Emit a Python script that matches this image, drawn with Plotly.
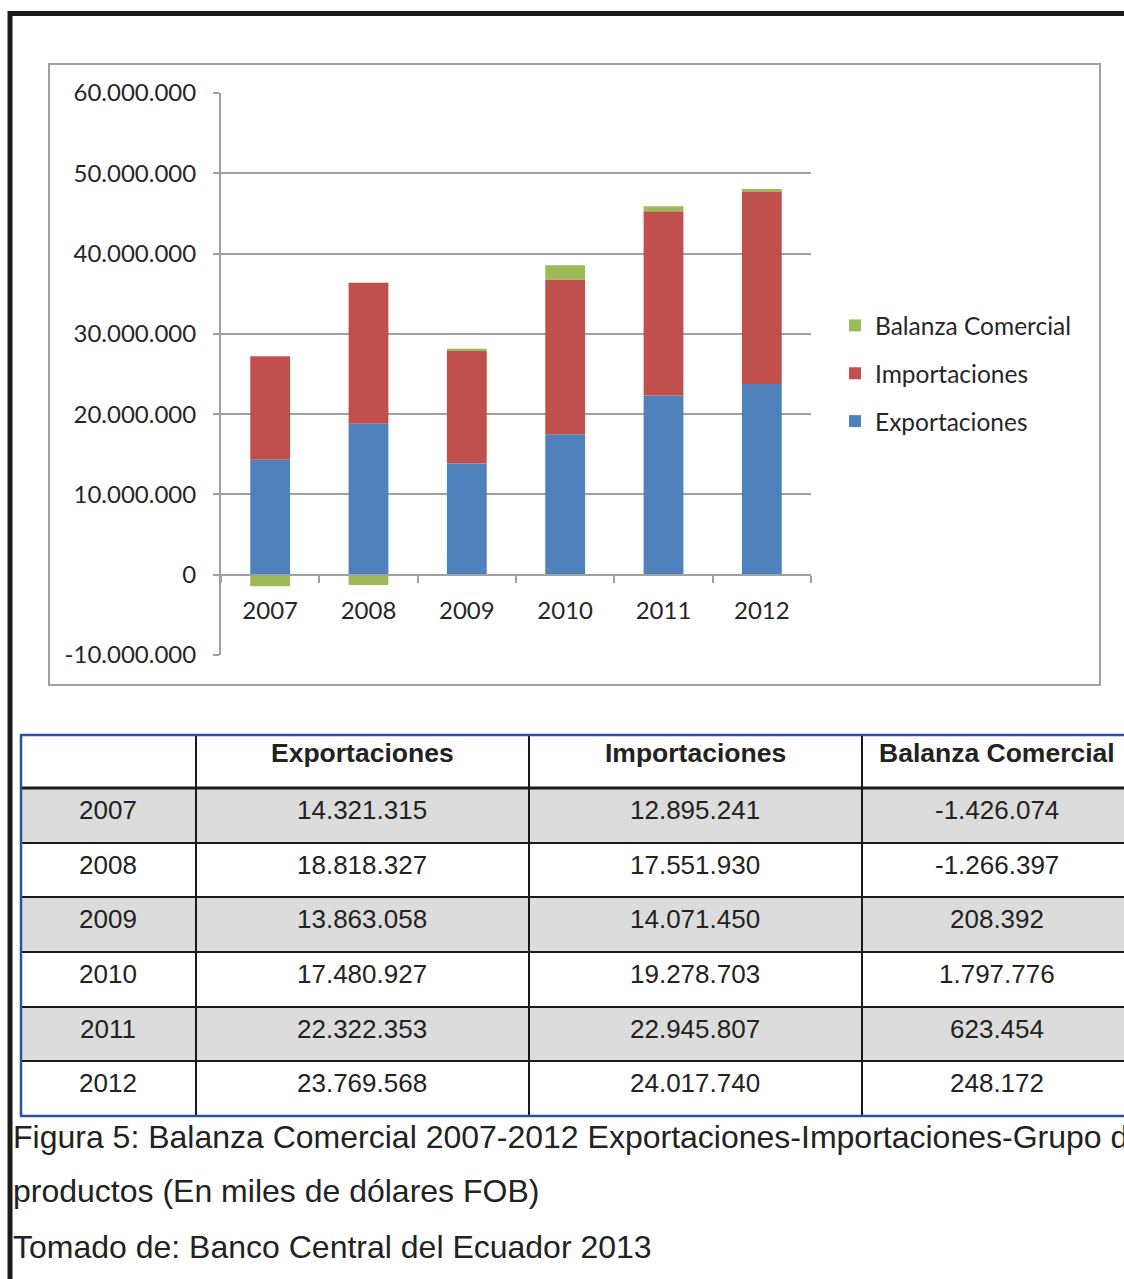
import plotly.graph_objects as go

# ---------------- data ----------------
years = ["2007", "2008", "2009", "2010", "2011", "2012"]
exportaciones = [14321315, 18818327, 13863058, 17480927, 22322353, 23769568]
importaciones = [12895241, 17551930, 14071450, 19278703, 22945807, 24017740]
balanza = [-1426074, -1266397, 208392, 1797776, 623454, 248172]
y_ticks = [-10000000, 0, 10000000, 20000000, 30000000, 40000000, 50000000, 60000000]
table_headers = ["", "Exportaciones", "Importaciones", "Balanza Comercial"]
caption_lines = [
    "Figura 5: Balanza Comercial 2007-2012 Exportaciones-Importaciones-Grupo de",
    "productos (En miles de dólares FOB)",
    "Tomado de: Banco Central del Ecuador 2013",
]


def fmt(v):
    s = f"{abs(v):,}".replace(",", ".")
    return ("-" + s) if v < 0 else s


y_ticktext = [fmt(v) for v in y_ticks]

# ---------------- layout geometry (page pixels) ----------------
PAGE_W, PAGE_H = 1124, 1279
W, H = PAGE_W, PAGE_H
L, R, T, B = 221, 811, 93, 655   # plot area in page pixels


def px(x):
    return (x - L) / (R - L)


def py(y):
    return (B - y) / (B - T)


GREEN = "#9BBB59"
RED = "#C0504D"
BLUE = "#4F81BD"
GRID = "#a0a0a0"
TXT = "#262626"
CHART_FONT = "Lato, Open Sans, sans-serif"
TABLE_FONT = "Liberation Sans, Arial, sans-serif"

fig = go.Figure()
fig.add_trace(go.Bar(x=years, y=exportaciones, name="Exportaciones",
                     marker=dict(color=BLUE, line=dict(width=0)),
                     legendgroup="e", legendrank=3))
fig.add_trace(go.Bar(x=years, y=importaciones, name="Importaciones",
                     marker=dict(color=RED, line=dict(width=0)),
                     legendgroup="i", legendrank=2))
fig.add_trace(go.Bar(x=years, y=balanza, name="Balanza Comercial",
                     marker=dict(color=GREEN, line=dict(width=0)),
                     legendgroup="b", legendrank=1))

shapes = []
annotations = []

# outer page border (black, top and left)
shapes.append(dict(type="line", xref="paper", yref="paper",
                   x0=px(8), x1=px(1140), y0=py(13.5), y1=py(13.5),
                   line=dict(color="#1a1a1a", width=5), layer="above"))
shapes.append(dict(type="line", xref="paper", yref="paper",
                   x0=px(10), x1=px(10), y0=py(11), y1=py(1285),
                   line=dict(color="#1a1a1a", width=5), layer="above"))

# chart frame
shapes.append(dict(type="rect", xref="paper", yref="paper",
                   x0=px(49), x1=px(1100), y0=py(64), y1=py(685),
                   line=dict(color=GRID, width=2), layer="below"))

# ---------------- table ----------------
col_edges = [21, 196, 529, 862, 1145]
row_edges = [735, 788, 843, 897, 952, 1007, 1061, 1116]

for r in range(len(years)):
    if r % 2 == 0:
        shapes.append(dict(type="rect", xref="paper", yref="paper",
                           x0=px(col_edges[0]), x1=px(col_edges[-1]),
                           y0=py(row_edges[r + 1]), y1=py(row_edges[r + 2]),
                           fillcolor="#dcdcdc", line=dict(width=0), layer="above"))

for i, yv in enumerate(row_edges[1:-1]):
    shapes.append(dict(type="line", xref="paper", yref="paper",
                       x0=px(col_edges[0]), x1=px(col_edges[-1]), y0=py(yv), y1=py(yv),
                       line=dict(color="#1a1a1a", width=3 if i == 0 else 2), layer="above"))
for xv in col_edges[1:-1]:
    shapes.append(dict(type="line", xref="paper", yref="paper",
                       x0=px(xv), x1=px(xv), y0=py(row_edges[0]), y1=py(row_edges[-1]),
                       line=dict(color="#1a1a1a", width=2), layer="above"))
shapes.append(dict(type="rect", xref="paper", yref="paper",
                   x0=px(col_edges[0]), x1=px(col_edges[-1]),
                   y0=py(row_edges[0]), y1=py(row_edges[-1]),
                   line=dict(color="#2f4f9f", width=2.5), layer="above"))

col_centers = [108, 362, 695, 997]
for c, h in enumerate(table_headers):
    if h:
        annotations.append(dict(xref="paper", yref="paper", x=px(col_centers[c]), y=py(753),
                                text=f"<b>{h}</b>", showarrow=False,
                                xanchor="center", yanchor="middle",
                                font=dict(family=TABLE_FONT, size=26.5, color="#222222")))
for r, yr in enumerate(years):
    cells = [yr, fmt(exportaciones[r]), fmt(importaciones[r]), fmt(balanza[r])]
    yc = row_edges[r + 1] + 22
    for c, t in enumerate(cells):
        annotations.append(dict(xref="paper", yref="paper", x=px(col_centers[c]), y=py(yc),
                                text=t, showarrow=False, xanchor="center", yanchor="middle",
                                font=dict(family=TABLE_FONT, size=26, color="#222222")))

caption_y = [1137, 1191, 1247]
for t, yc in zip(caption_lines, caption_y):
    annotations.append(dict(xref="paper", yref="paper", x=px(11), y=py(yc), text=t,
                            showarrow=False, xanchor="left", yanchor="middle",
                            font=dict(family=TABLE_FONT, size=32, color="#222222")))

fig.update_layout(
    width=W, height=H,
    margin=dict(l=L, r=W - R, t=T, b=H - B, pad=0),
    paper_bgcolor="white", plot_bgcolor="white",
    barmode="relative", bargap=0.595,
    separators=",.",
    showlegend=True,
    legend=dict(x=px(835), y=py(303), xanchor="left", yanchor="top",
                traceorder="grouped", tracegroupgap=13,
                font=dict(family=CHART_FONT, size=24.5, color=TXT),
                bgcolor="rgba(0,0,0,0)"),
    xaxis=dict(type="category", anchor="free", position=1 / 7,
               showline=True, linecolor=GRID, linewidth=2,
               ticks="outside", tickson="boundaries", ticklen=7, tickwidth=2, tickcolor=GRID,
               showgrid=False, ticklabelstandoff=14,
               tickfont=dict(family=CHART_FONT, size=24, color=TXT)),
    yaxis=dict(range=[-10000000, 60000000], tickvals=y_ticks, ticktext=y_ticktext,
               showline=True, linecolor=GRID, linewidth=2,
               ticks="outside", ticklen=6, tickwidth=2, tickcolor=GRID,
               showgrid=True, gridcolor=GRID, gridwidth=1.5, zeroline=False,
               ticklabelstandoff=12,
               tickfont=dict(family=CHART_FONT, size=24, color=TXT)),
    shapes=shapes,
    annotations=annotations,
)

fig.write_html(
    "out.html",
    config={"displayModeBar": False},
    post_script="document.body.style.margin='0';document.body.style.overflow='hidden';",
)
